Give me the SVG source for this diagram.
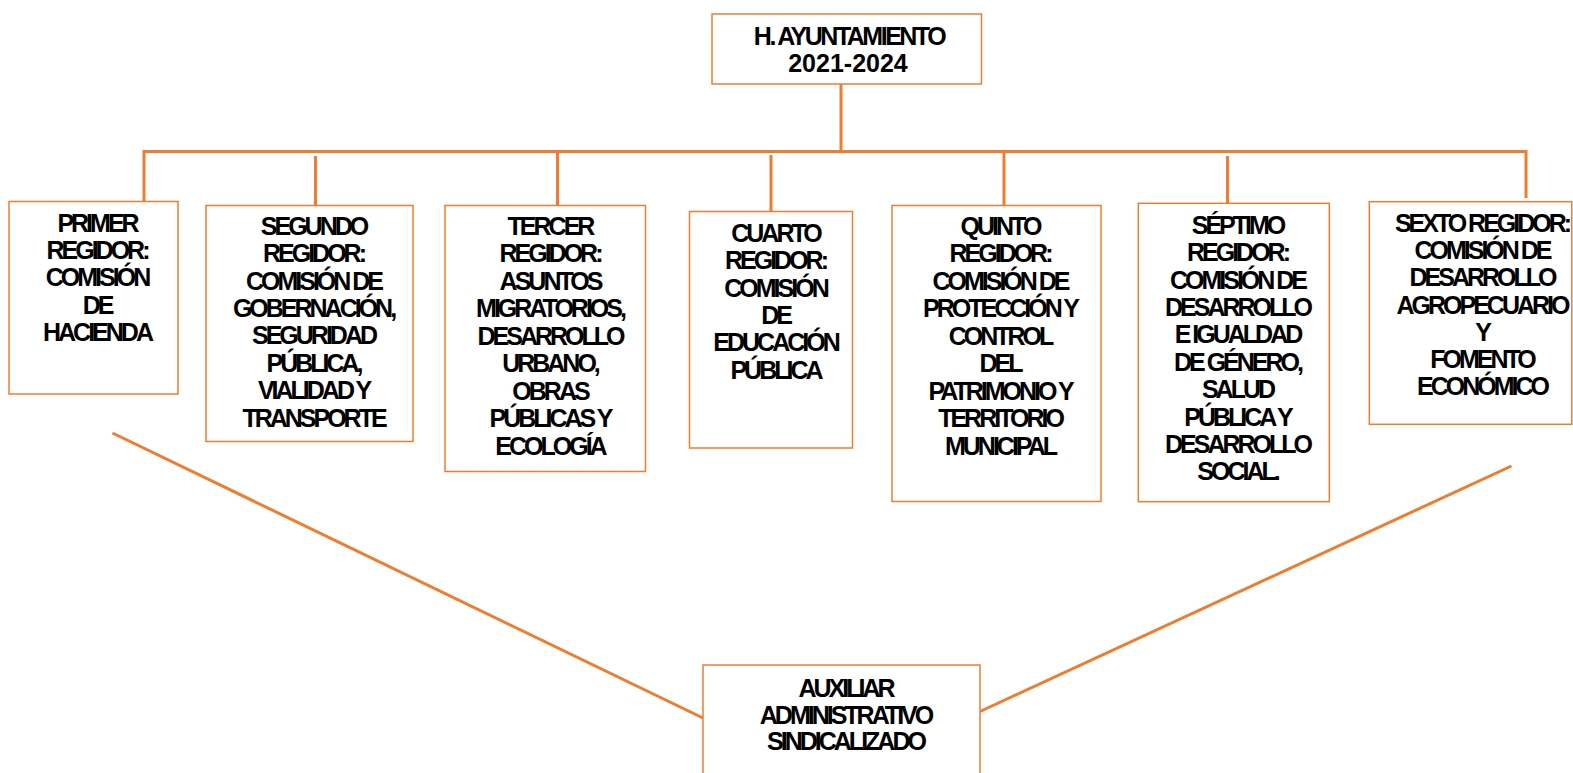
<svg xmlns="http://www.w3.org/2000/svg" width="1573" height="773" viewBox="0 0 1573 773">
<style>
.box{fill:#fff;stroke:#ED7D31;stroke-width:1.5}
.con{stroke:#ED7D31;stroke-width:3;fill:none;stroke-linecap:butt}
.t{font-family:"Liberation Sans",Arial,sans-serif;font-weight:bold;font-size:25px;letter-spacing:-3px;text-anchor:middle;fill:#000}
.tt{font-family:"Liberation Sans",Arial,sans-serif;font-weight:bold;font-size:25px;text-anchor:middle;fill:#000}
</style>
<rect width="1573" height="773" fill="#fff"/>
<g id="connectors">
<line class="con" x1="841" y1="84" x2="841" y2="152"/>
<polyline class="con" points="144,201 144,151.5 1526,151.5 1526,198"/>
<line class="con" x1="315.5" y1="156" x2="315.5" y2="205"/>
<line class="con" x1="557.5" y1="151" x2="557.5" y2="205"/>
<line class="con" x1="771" y1="155" x2="771" y2="211"/>
<line class="con" x1="1004" y1="151" x2="1004" y2="205"/>
<line class="con" x1="1227.5" y1="156" x2="1227.5" y2="203"/>
<line class="con" x1="112.5" y1="433" x2="703" y2="718"/>
<line class="con" x1="980" y1="711.5" x2="1511.5" y2="466"/>
</g>
<g id="n0">
<rect class="box" x="712" y="14" width="269.5" height="70"/>
<text class="tt" x="849" y="45" letter-spacing="-2.5">H. AYUNTAMIENTO</text>
<text class="tt" x="848" y="72">2021-2024</text>
</g>
<g id="n1">
<rect class="box" x="9" y="201.5" width="169" height="192.5"/>
<text class="t" x="97" y="232"><tspan x="97">PRIMER</tspan><tspan x="97" dy="27.2">REGIDOR:</tspan><tspan x="97" dy="27.2">COMISIÓN</tspan><tspan x="97" dy="27.2">DE</tspan><tspan x="97" dy="27.2">HACIENDA</tspan></text>
</g>
<g id="n2">
<rect class="box" x="206" y="205.5" width="207" height="236"/>
<text class="t" x="313.5" y="234.8"><tspan x="313.5">SEGUNDO</tspan><tspan x="313.5" dy="27.4">REGIDOR:</tspan><tspan x="313.5" dy="27.4">COMISIÓN DE</tspan><tspan x="313.5" dy="27.4">GOBERNACIÓN,</tspan><tspan x="313.5" dy="27.4">SEGURIDAD</tspan><tspan x="313.5" dy="27.4">PÚBLICA,</tspan><tspan x="313.5" dy="27.4">VIALIDAD Y</tspan><tspan x="313.5" dy="27.4">TRANSPORTE</tspan></text>
</g>
<g id="n3">
<rect class="box" x="445" y="205.5" width="200.5" height="266"/>
<text class="t" x="550" y="234.8"><tspan x="550">TERCER</tspan><tspan x="550" dy="27.5">REGIDOR:</tspan><tspan x="550" dy="27.5">ASUNTOS</tspan><tspan x="550" dy="27.5">MIGRATORIOS,</tspan><tspan x="550" dy="27.5">DESARROLLO</tspan><tspan x="550" dy="27.5">URBANO,</tspan><tspan x="550" dy="27.5">OBRAS</tspan><tspan x="550" dy="27.5">PÚBLICAS Y</tspan><tspan x="550" dy="27.5">ECOLOGÍA</tspan></text>
</g>
<g id="n4">
<rect class="box" x="689.5" y="211.5" width="163" height="236.5"/>
<text class="t" x="775.5" y="242"><tspan x="775.5">CUARTO</tspan><tspan x="775.5" dy="27.3">REGIDOR:</tspan><tspan x="775.5" dy="27.3">COMISIÓN</tspan><tspan x="775.5" dy="27.3">DE</tspan><tspan x="775.5" dy="27.3">EDUCACIÓN</tspan><tspan x="775.5" dy="27.3">PÚBLICA</tspan></text>
</g>
<g id="n5">
<rect class="box" x="892" y="205.5" width="209" height="296"/>
<text class="t" x="1000" y="234.8"><tspan x="1000">QUINTO</tspan><tspan x="1000" dy="27.5">REGIDOR:</tspan><tspan x="1000" dy="27.5">COMISIÓN DE</tspan><tspan x="1000" dy="27.5">PROTECCIÓN Y</tspan><tspan x="1000" dy="27.5">CONTROL</tspan><tspan x="1000" dy="27.5">DEL</tspan><tspan x="1000" dy="27.5">PATRIMONIO Y</tspan><tspan x="1000" dy="27.5">TERRITORIO</tspan><tspan x="1000" dy="27.5">MUNICIPAL</tspan></text>
</g>
<g id="n6">
<rect class="box" x="1138.3" y="203.3" width="191" height="298.4"/>
<text class="t" x="1237.5" y="233.8"><tspan x="1237.5">SÉPTIMO</tspan><tspan x="1237.5" dy="27.4">REGIDOR:</tspan><tspan x="1237.5" dy="27.4">COMISIÓN DE</tspan><tspan x="1237.5" dy="27.4">DESARROLLO</tspan><tspan x="1237.5" dy="27.4">E IGUALDAD</tspan><tspan x="1237.5" dy="27.4">DE GÉNERO,</tspan><tspan x="1237.5" dy="27.4">SALUD</tspan><tspan x="1237.5" dy="27.4">PÚBLICA Y</tspan><tspan x="1237.5" dy="27.4">DESARROLLO</tspan><tspan x="1237.5" dy="27.4">SOCIAL.</tspan></text>
</g>
<g id="n7">
<rect class="box" x="1369.3" y="201.7" width="202.5" height="222.6"/>
<text class="t" x="1482" y="232"><tspan x="1482">SEXTO REGIDOR:</tspan><tspan x="1482" dy="27.2">COMISIÓN DE</tspan><tspan x="1482" dy="27.2">DESARROLLO</tspan><tspan x="1482" dy="27.2">AGROPECUARIO</tspan><tspan x="1482" dy="27.2">Y</tspan><tspan x="1482" dy="27.2">FOMENTO</tspan><tspan x="1482" dy="27.2">ECONÓMICO</tspan></text>
</g>
<g id="n8">
<rect class="box" x="703" y="665" width="277" height="130"/>
<text class="t" x="845.5" y="696.8"><tspan x="845.5">AUXILIAR</tspan><tspan x="845.5" dy="26.8">ADMINISTRATIVO</tspan><tspan x="845.5" dy="26.8">SINDICALIZADO</tspan></text>
</g>
</svg>
